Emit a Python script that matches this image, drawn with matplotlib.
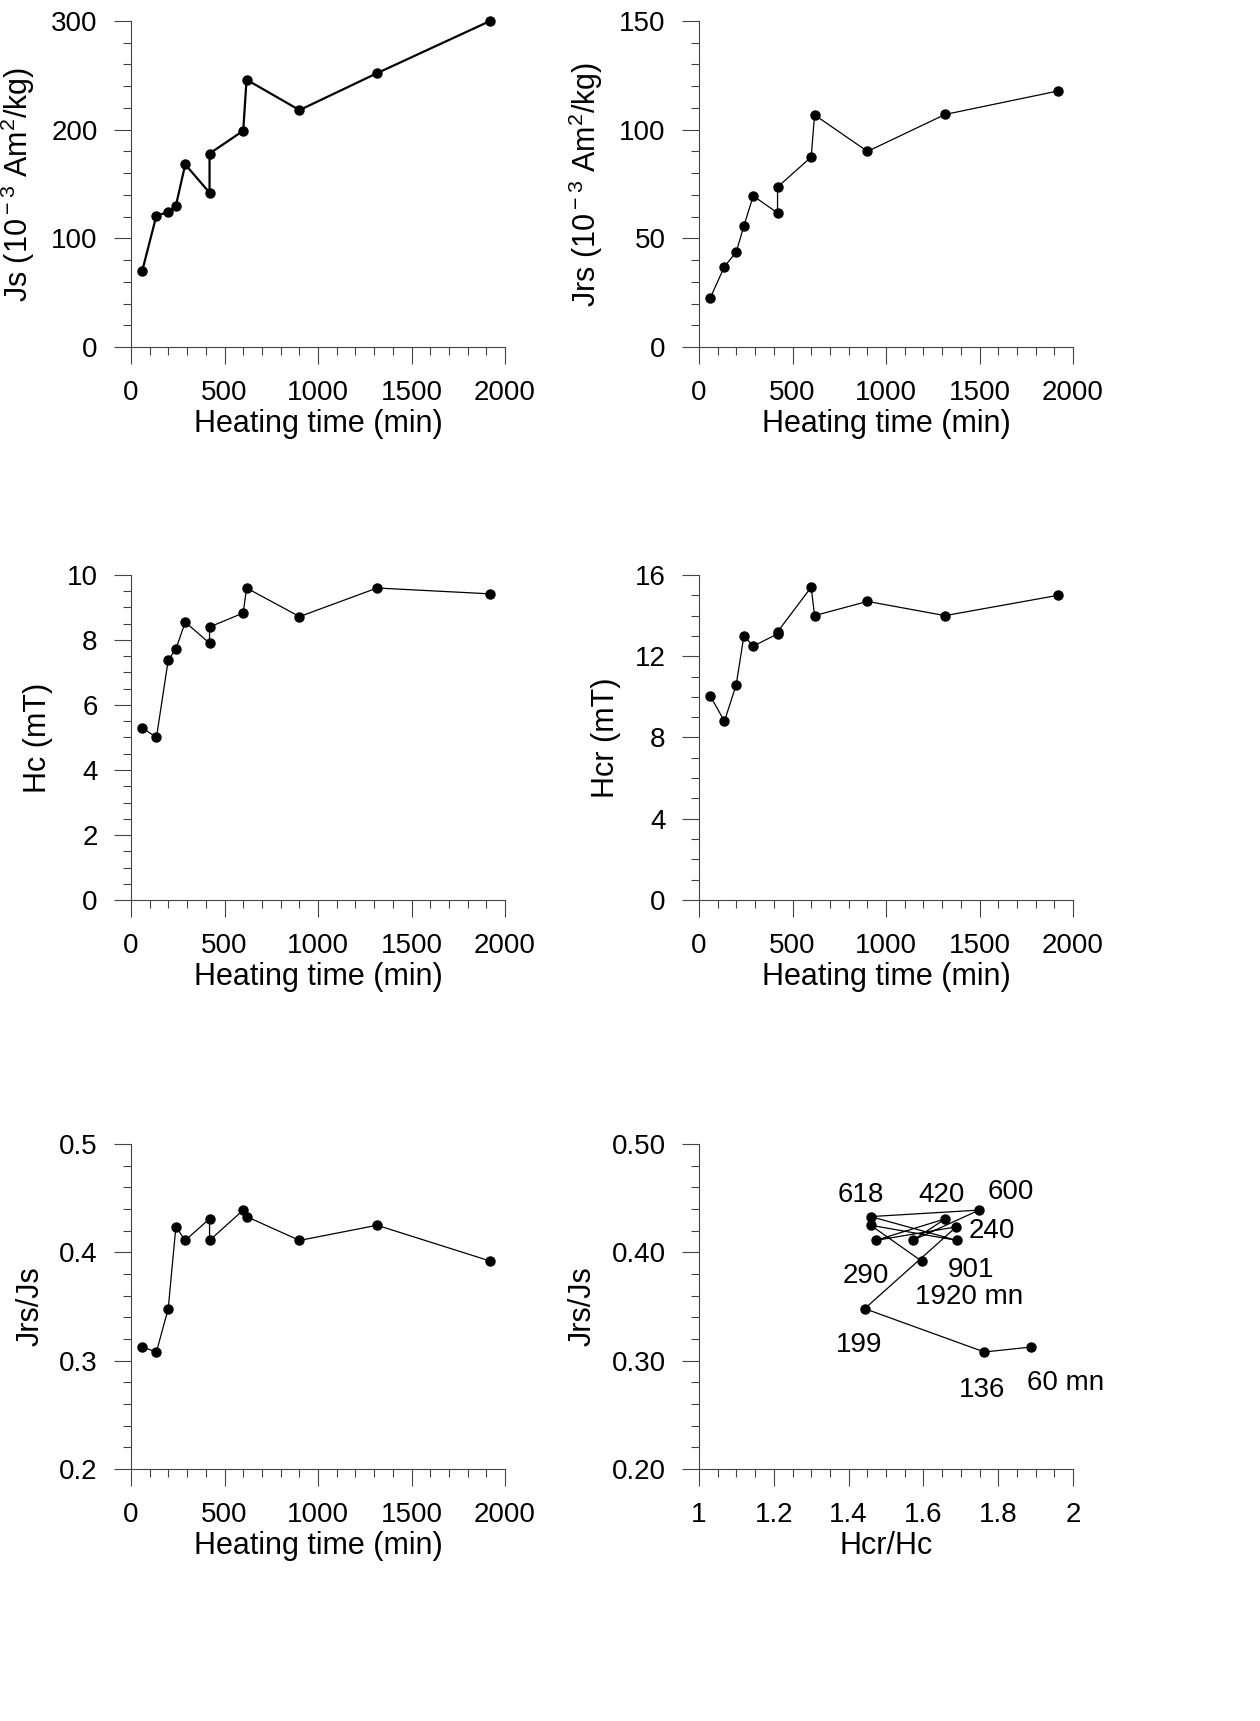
import matplotlib
matplotlib.use('Agg')
import matplotlib.pyplot as plt
from matplotlib.ticker import MultipleLocator, FormatStrFormatter

plt.rcParams['font.family'] = ['Liberation Sans', 'DejaVu Sans']
plt.rcParams['mathtext.fontset'] = 'custom'
plt.rcParams['mathtext.rm'] = 'Liberation Sans'
plt.rcParams['axes.unicode_minus'] = False

# heating times (min); two samples at 420 min
time = [60, 136, 199, 240, 290, 420, 420, 600, 618, 901, 1316, 1920]
js = [70, 121, 124, 130, 168, 142, 178, 199, 246, 218, 252, 300]
jrs = [22.5, 37, 43.7, 55.7, 69.5, 61.7, 73.6, 87.4, 106.8, 90, 107, 117.8]
hc = [5.3, 5.0, 7.38, 7.72, 8.55, 7.9, 8.4, 8.83, 9.6, 8.72, 9.6, 9.42]
hcr = [10.05, 8.8, 10.6, 13.0, 12.5, 13.1, 13.2, 15.4, 14.0, 14.7, 14.0, 15.0]
ratio = [0.3126, 0.308, 0.348, 0.4235, 0.411, 0.431, 0.411, 0.439, 0.433, 0.411, 0.425, 0.392]
hcr_hc = [1.888, 1.763, 1.443, 1.688, 1.472, 1.659, 1.571, 1.749, 1.459, 1.69, 1.459, 1.595]

# labels for the Hcr/Hc plot: (index, text, offset in px)
point_labels = [(8, '618', (-10, 22)), (5, '420', (-4, 24)), (7, '600', (32, 18)),
                (3, '240', (36, -4)), (4, '290', (-10, -36)), (9, '901', (14, -30)),
                (11, '1920 mn', (48, -36)), (2, '199', (-6, -36)), (1, '136', (-2, -38)),
                (0, '60 mn', (34, -36))]

W, H = 1260, 1721
fig = plt.figure(figsize=(W / 100, H / 100), dpi=100)

def make_ax(left_px, top_px, bottom_px):
    return fig.add_axes([left_px / W, 1 - bottom_px / H, 374 / W, (bottom_px - top_px) / H])

def style(ax, xlim, ylim, xmaj, xmin, ymaj, ymin, xlabel, ylabel, yfmt=None):
    ax.set_xlim(*xlim)
    ax.set_ylim(*ylim)
    for s in ['top', 'right']:
        ax.spines[s].set_visible(False)
    for s in ['left', 'bottom']:
        ax.spines[s].set_linewidth(0.8)
        ax.spines[s].set_color('#444444')
    ax.xaxis.set_major_locator(MultipleLocator(xmaj))
    ax.xaxis.set_minor_locator(MultipleLocator(xmin))
    ax.yaxis.set_major_locator(MultipleLocator(ymaj))
    ax.yaxis.set_minor_locator(MultipleLocator(ymin))
    ax.tick_params(which='major', direction='out', length=12, width=0.8, labelsize=20, pad=12, color='#444444')
    ax.tick_params(which='minor', direction='out', length=6, width=0.8, color='#444444')
    if yfmt:
        ax.yaxis.set_major_formatter(FormatStrFormatter(yfmt))
    ax.set_xlabel(xlabel, fontsize=22, labelpad=2)
    ax.set_ylabel(ylabel, fontsize=22, labelpad=10)
    ax.patch.set_visible(False)

L, R = 131, 699
rows = [(21, 347), (575, 900), (1144, 1469)]
tlabel = 'Heating time (min)'
kw = dict(ms=6.5, clip_on=False)

ax = make_ax(L, *rows[0])
ax.plot(time, js, 'k-o', lw=1.6, **kw)
style(ax, (0, 2000), (0, 300), 500, 100, 100, 20, tlabel, r'Js (10$^{\rm -3}$ Am$^{\rm 2}$/kg)')

ax = make_ax(R, *rows[0])
ax.plot(time, jrs, 'k-o', lw=0.9, **kw)
style(ax, (0, 2000), (0, 150), 500, 100, 50, 10, tlabel, r'Jrs (10$^{\rm -3}$ Am$^{\rm 2}$/kg)')

ax = make_ax(L, *rows[1])
ax.plot(time, hc, 'k-o', lw=0.9, **kw)
style(ax, (0, 2000), (0, 10), 500, 100, 2, 0.5, tlabel, 'Hc (mT)')

ax = make_ax(R, *rows[1])
ax.plot(time, hcr, 'k-o', lw=0.9, **kw)
style(ax, (0, 2000), (0, 16), 500, 100, 4, 1, tlabel, 'Hcr (mT)')

ax = make_ax(L, *rows[2])
ax.plot(time, ratio, 'k-o', lw=0.9, **kw)
style(ax, (0, 2000), (0.2, 0.5), 500, 100, 0.1, 0.02, tlabel, 'Jrs/Js', yfmt='%.1f')

ax = make_ax(R, *rows[2])
ax.plot(hcr_hc, ratio, 'k-o', lw=0.9, **kw)
style(ax, (1, 2), (0.2, 0.5), 0.2, 0.05, 0.1, 0.02, 'Hcr/Hc', 'Jrs/Js', yfmt='%.2f')
ax.xaxis.set_major_formatter(plt.FuncFormatter(lambda v, p: ('%.1f' % v).rstrip('0').rstrip('.')))
for i, txt, off in point_labels:
    ax.annotate(txt, (hcr_hc[i], ratio[i]), xytext=off, textcoords='offset pixels',
                ha='center', va='center', fontsize=20)

fig.savefig('out.png', dpi=100)
